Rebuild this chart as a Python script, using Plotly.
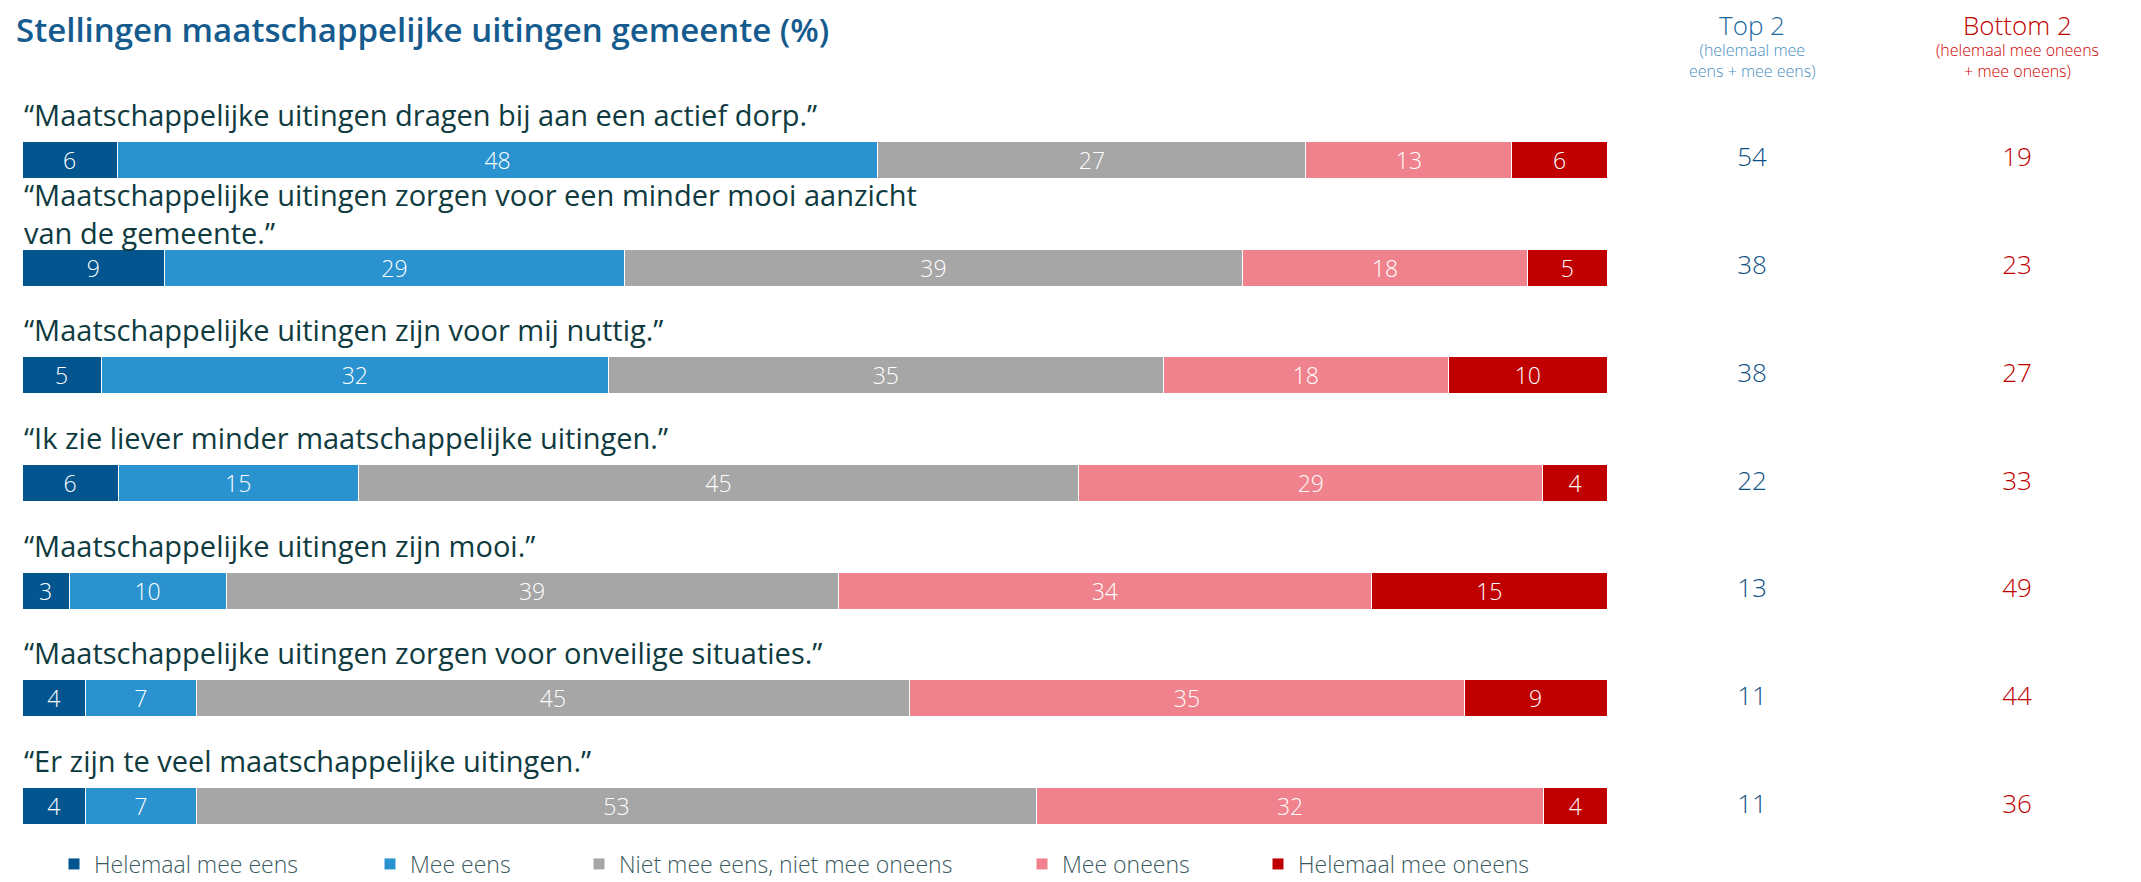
import plotly.graph_objects as go

# ---------------- data ----------------
statements = [
    "“Maatschappelijke uitingen dragen bij aan een actief dorp.”",
    "“Maatschappelijke uitingen zorgen voor een minder mooi aanzicht<br>van de gemeente.”",
    "“Maatschappelijke uitingen zijn voor mij nuttig.”",
    "“Ik zie liever minder maatschappelijke uitingen.”",
    "“Maatschappelijke uitingen zijn mooi.”",
    "“Maatschappelijke uitingen zorgen voor onveilige situaties.”",
    "“Er zijn te veel maatschappelijke uitingen.”",
]
categories = [
    "Helemaal mee eens",
    "Mee eens",
    "Niet mee eens, niet mee oneens",
    "Mee oneens",
    "Helemaal mee oneens",
]
helemaal_mee_eens = [6, 9, 5, 6, 3, 4, 4]
mee_eens = [48, 29, 32, 15, 10, 7, 7]
neutraal = [27, 39, 35, 45, 39, 45, 53]
mee_oneens = [13, 18, 18, 29, 34, 35, 32]
helemaal_mee_oneens = [6, 5, 10, 4, 15, 9, 4]
top2 = [54, 38, 38, 22, 13, 11, 11]
bottom2 = [19, 23, 27, 33, 49, 44, 36]
summary_columns = ["Top 2", "Bottom 2"]
title_text = "Stellingen maatschappelijke uitingen gemeente (%)"

series = [helemaal_mee_eens, mee_eens, neutraal, mee_oneens, helemaal_mee_oneens]
colors = ["#03558f", "#2a92cf", "#a6a6a6", "#ef828c", "#c00000"]

# ---------------- geometry (pixels, page coordinates) ----------------
OFF = 8  # page body margin
W, H = 2141 - OFF, 882 - OFF
ML, MR = 22 - OFF, 0
MT = 106 - OFF
MB = 882 - 860
PW = W - ML - MR
PH = H - MT - MB

def px_x(p):
    return (p - OFF - ML) / PW

def px_y(p):
    return (H - MB - (p - OFF)) / PH

TEXT_DARK = "#0f3b40"
FONT = "Open Sans"

fig = go.Figure()

legend_names = ["legend", "legend2", "legend3", "legend4", "legend5"]
for name, vals, col, lg in zip(categories, series, colors, legend_names):
    fig.add_trace(go.Bar(
        y=statements, x=vals, name=name, orientation="h",
        marker=dict(color=col, line=dict(color="white", width=1)),
        text=vals, texttemplate="%{text}", textposition="inside",
        insidetextanchor="middle", textangle=0, constraintext="none",
        textfont=dict(color="white", size=23, family=FONT, weight=300),
        legend=lg, hoverinfo="skip",
    ))

fig.add_trace(go.Scatter(
    x=[summary_columns[0]] * len(statements), y=statements, text=top2,
    mode="text", xaxis="x2", yaxis="y", showlegend=False,
    textfont=dict(color="#0f5183", size=26, family=FONT, weight=300),
    hoverinfo="skip",
))
fig.add_trace(go.Scatter(
    x=[summary_columns[1]] * len(statements), y=statements, text=bottom2,
    mode="text", xaxis="x2", yaxis="y", showlegend=False,
    textfont=dict(color="#c00000", size=26, family=FONT, weight=300),
    hoverinfo="skip",
))

annotations = []
for s in statements:
    multi = "<br>" in s
    annotations.append(dict(
        x=0, y=s, xref="x", yref="y", text=s, showarrow=False,
        xanchor="left", yanchor="bottom", yshift=14 if multi else 24,
        align="left",
        font=dict(size=29, color=TEXT_DARK, family=FONT),
    ))

# title and column headers
annotations += [
    dict(x=px_x(14), y=px_y(30), xref="paper", yref="paper", text=title_text,
         showarrow=False, xanchor="left", yanchor="middle",
         font=dict(size=33, color="#155b8e", family=FONT, weight=600)),
    dict(x=summary_columns[0], y=px_y(25), xref="x2", yref="paper", text="Top 2",
         showarrow=False, xanchor="center", yanchor="middle",
         font=dict(size=26, color="#1e6a9e", family=FONT, weight=300)),
    dict(x=summary_columns[0], y=px_y(61), xref="x2", yref="paper",
         text="(helemaal mee<br>eens + mee eens)", showarrow=False,
         xanchor="center", yanchor="middle",
         font=dict(size=16, color="#4b8fbf", family=FONT, weight=300)),
    dict(x=summary_columns[1], y=px_y(25), xref="x2", yref="paper", text="Bottom 2",
         showarrow=False, xanchor="center", yanchor="middle",
         font=dict(size=26, color="#c00000", family=FONT, weight=300)),
    dict(x=summary_columns[1], y=px_y(61), xref="x2", yref="paper",
         text="(helemaal mee oneens<br>+ mee oneens)", showarrow=False,
         xanchor="center", yanchor="middle",
         font=dict(size=16, color="#d00000", family=FONT, weight=300)),
]

legend_px = [74, 390, 599, 1042, 1278]
legend_common = dict(
    orientation="h", yanchor="middle", y=px_y(864), xanchor="left",
    font=dict(size=23, color="#3a5a60", family=FONT, weight=300),
    bgcolor="rgba(0,0,0,0)", borderwidth=0, itemwidth=30,
)
layout_legends = {}
for lg, p in zip(legend_names, legend_px):
    layout_legends[lg] = dict(legend_common, x=px_x(p - 20))

fig.update_layout(
    width=W, height=H,
    margin=dict(l=ML, r=MR, t=MT, b=MB, autoexpand=False),
    paper_bgcolor="white", plot_bgcolor="white",
    barmode="stack", barnorm="percent", bargap=0.656,
    xaxis=dict(domain=[0, px_x(1607)], range=[0, 100], visible=False, fixedrange=True),
    xaxis2=dict(domain=[px_x(1632), 1], type="category",
                categoryorder="array", categoryarray=summary_columns,
                range=[-(1752 - 1632) / 265, -(1752 - 1632) / 265 + (2141 - 1632) / 265],
                visible=False, anchor="y"),
    yaxis=dict(type="category", categoryorder="array", categoryarray=statements,
               range=[len(statements) - 0.5, -0.5], visible=False),
    annotations=annotations,
    uniformtext=dict(mode=False),
    **layout_legends,
)

fig.write_html("out.html")
